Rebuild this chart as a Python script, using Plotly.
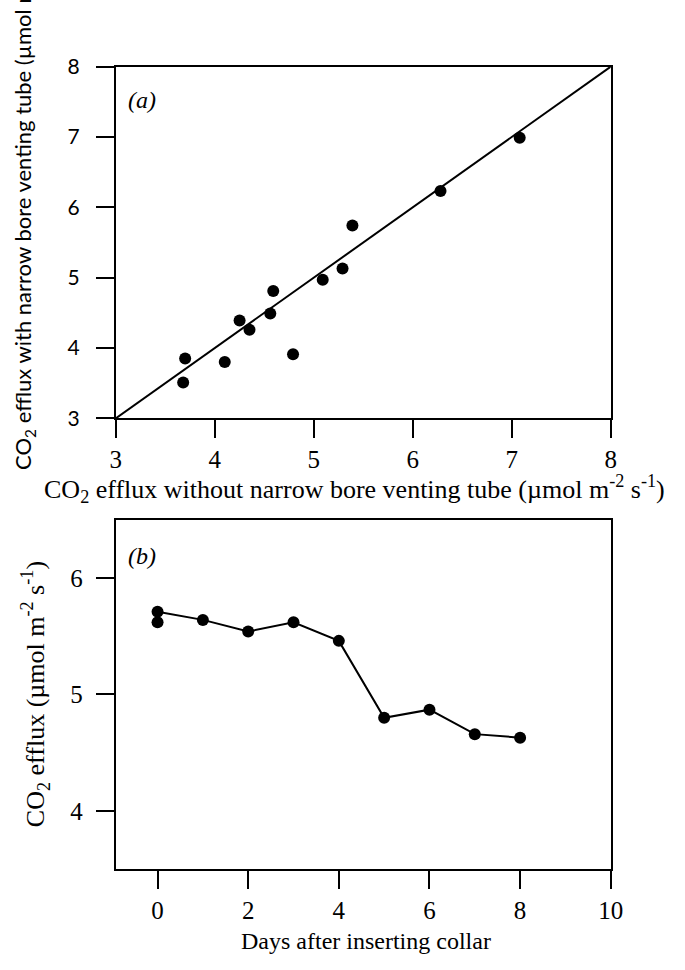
import plotly.graph_objects as go

W, H = 685, 970

# ---- Panel (a) data ----
a_without = [3.70, 3.68, 4.10, 4.25, 4.35, 4.56, 4.59, 4.79, 5.09, 5.29, 5.39, 6.28, 7.08]
a_with = [3.85, 3.51, 3.80, 4.39, 4.26, 4.49, 4.81, 3.91, 4.97, 5.13, 5.74, 6.23, 6.99]
a_line_x = [3, 8]
a_line_y = [3, 8]
a_ticks = [3, 4, 5, 6, 7, 8]

# ---- Panel (b) data ----
b_days = [0, 1, 2, 3, 4, 5, 6, 7, 8]
b_efflux = [5.71, 5.64, 5.54, 5.62, 5.46, 4.80, 4.87, 4.66, 4.63]
b_extra_day = [0]
b_extra_efflux = [5.62]
b_xticks = [0, 2, 4, 6, 8, 10]
b_yticks = [4, 5, 6]

SERIF = "Liberation Serif"
SANS = "Lato"
BLACK = "black"


def px_x(p):
    return p / W


def px_y(p):
    return 1 - p / H


fig = go.Figure()

fig.add_trace(go.Scatter(x=a_line_x, y=a_line_y, mode="lines",
                         line=dict(color=BLACK, width=2), xaxis="x", yaxis="y",
                         showlegend=False, hoverinfo="skip"))
fig.add_trace(go.Scatter(x=a_without, y=a_with, mode="markers",
                         marker=dict(color=BLACK, size=12), xaxis="x", yaxis="y",
                         showlegend=False))
fig.add_trace(go.Scatter(x=b_days, y=b_efflux, mode="lines+markers",
                         line=dict(color=BLACK, width=2),
                         marker=dict(color=BLACK, size=12), xaxis="x2", yaxis="y2",
                         showlegend=False))
fig.add_trace(go.Scatter(x=b_extra_day, y=b_extra_efflux, mode="markers",
                         marker=dict(color=BLACK, size=12), xaxis="x2", yaxis="y2",
                         showlegend=False))

xdom = [px_x(113), px_x(622)]
common = dict(showline=True, linecolor=BLACK, linewidth=2, mirror=True,
              ticks="outside", ticklen=18, tickwidth=2, tickcolor=BLACK,
              showgrid=False, zeroline=False)

fig.update_layout(
    width=W, height=H,
    margin=dict(l=0, r=0, t=0, b=0),
    paper_bgcolor="white", plot_bgcolor="white",
    xaxis=dict(domain=xdom, range=[3, 8], tickvals=a_ticks, anchor="y",
               tickfont=dict(family=SERIF, size=25, color=BLACK), **common),
    yaxis=dict(domain=[px_y(415), px_y(54)], range=[3, 8], tickvals=a_ticks, anchor="x",
               ticklabelstandoff=12,
               tickfont=dict(family=SANS, size=21, color=BLACK), **common),
    xaxis2=dict(domain=xdom, range=[-0.92, 10], tickvals=b_xticks, anchor="y2",
                tickfont=dict(family=SERIF, size=25, color=BLACK), **common),
    yaxis2=dict(domain=[px_y(878), px_y(519)], range=[3.5, 6.5], tickvals=b_yticks, anchor="x2",
                ticklabelstandoff=8,
                tickfont=dict(family=SERIF, size=25, color=BLACK), **common),
)

ann = [
    dict(text="<i>(a)</i>", x=px_x(123), y=px_y(88), xanchor="left", yanchor="middle",
         font=dict(family=SERIF, size=24)),
    dict(text="<i>(b)</i>", x=px_x(123), y=px_y(556), xanchor="left", yanchor="middle",
         font=dict(family=SERIF, size=24)),
    dict(text="CO<sub>2</sub> efflux without narrow bore venting tube (µmol m<sup>-2</sup> s<sup>-1</sup>)",
         x=px_x(358), y=px_y(488), xanchor="center", yanchor="middle",
         font=dict(family=SERIF, size=26)),
    dict(text="Days after inserting collar", x=px_x(370), y=px_y(952),
         xanchor="center", yanchor="middle", font=dict(family=SERIF, size=24)),
    dict(text="CO<sub>2</sub> efflux with narrow bore venting tube (µmol m<sup>-2</sup> s<sup>-1</sup>)",
         x=px_x(18), y=px_y(470), xanchor="center", yanchor="bottom", textangle=-90,
         font=dict(family=SANS, size=22)),
    dict(text="CO<sub>2</sub> efflux (µmol m<sup>-2</sup> s<sup>-1</sup>)",
         x=px_x(30), y=px_y(698), xanchor="center", yanchor="middle", textangle=-90,
         font=dict(family=SERIF, size=26)),
]
for a in ann:
    a.update(xref="paper", yref="paper", showarrow=False)
    a["font"]["color"] = BLACK
fig.update_layout(annotations=ann)

fig.write_html("out.html")
